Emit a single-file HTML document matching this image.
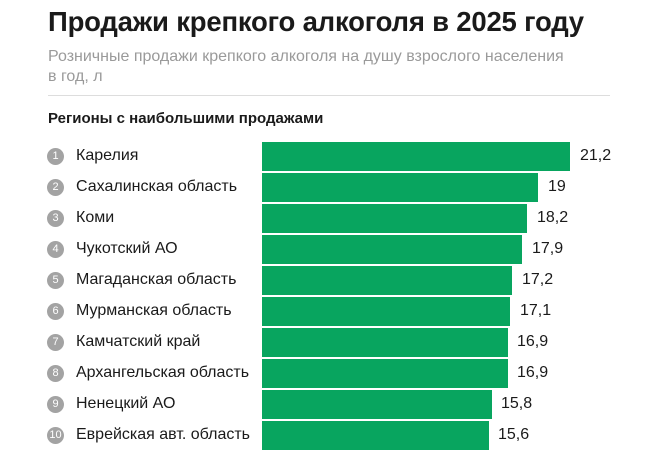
<!DOCTYPE html>
<html><head><meta charset="utf-8"><style>
body{margin:0;width:657px;height:467px;background:#fff;font-family:"Liberation Sans","Noto Sans CJK SC",sans-serif;position:relative;overflow:hidden;color:#1a1a1a}
.t{position:absolute;left:48px;top:6px;font-size:27.5px;font-weight:bold;letter-spacing:-0.2px}
.s{position:absolute;left:48px;top:47px;font-size:16px;color:#9a9a9a;line-height:20px;width:520px}
.hr{position:absolute;left:48px;top:95px;width:562px;height:1px;background:#ddd}
.h{position:absolute;left:48px;top:110px;font-size:15px;font-weight:bold}
.r{position:absolute;left:0;height:29px;width:657px}
.c{position:absolute;left:47px;top:6px;width:17px;height:17px;border-radius:50%;background:#a3a3a3;color:#fff;font-size:11px;text-align:center;line-height:17px}
.l{position:absolute;left:76px;top:5px;font-size:16px}
.b{position:absolute;left:262px;top:0;height:29px;background:#08a55f}
.v{position:absolute;top:5px;font-size:16px}
</style></head><body>
<div class="t">Продажи крепкого алкоголя в 2025 году</div>
<div class="s">Розничные продажи крепкого алкоголя на душу взрослого населения в год, л</div>
<div class="hr"></div>
<div class="h">Регионы с наибольшими продажами</div>
<div class="r" style="top:142px"><div class="c">1</div><div class="l">Карелия</div><div class="b" style="width:308px"></div><div class="v" style="left:580px">21,2</div></div>
<div class="r" style="top:173px"><div class="c">2</div><div class="l">Сахалинская область</div><div class="b" style="width:276px"></div><div class="v" style="left:548px">19</div></div>
<div class="r" style="top:204px"><div class="c">3</div><div class="l">Коми</div><div class="b" style="width:265px"></div><div class="v" style="left:537px">18,2</div></div>
<div class="r" style="top:235px"><div class="c">4</div><div class="l">Чукотский АО</div><div class="b" style="width:260px"></div><div class="v" style="left:532px">17,9</div></div>
<div class="r" style="top:266px"><div class="c">5</div><div class="l">Магаданская область</div><div class="b" style="width:250px"></div><div class="v" style="left:522px">17,2</div></div>
<div class="r" style="top:297px"><div class="c">6</div><div class="l">Мурманская область</div><div class="b" style="width:248px"></div><div class="v" style="left:520px">17,1</div></div>
<div class="r" style="top:328px"><div class="c">7</div><div class="l">Камчатский край</div><div class="b" style="width:246px"></div><div class="v" style="left:517px">16,9</div></div>
<div class="r" style="top:359px"><div class="c">8</div><div class="l">Архангельская область</div><div class="b" style="width:246px"></div><div class="v" style="left:517px">16,9</div></div>
<div class="r" style="top:390px"><div class="c">9</div><div class="l">Ненецкий АО</div><div class="b" style="width:230px"></div><div class="v" style="left:501px">15,8</div></div>
<div class="r" style="top:421px"><div class="c">10</div><div class="l">Еврейская авт. область</div><div class="b" style="width:227px"></div><div class="v" style="left:498px">15,6</div></div>
</body></html>
